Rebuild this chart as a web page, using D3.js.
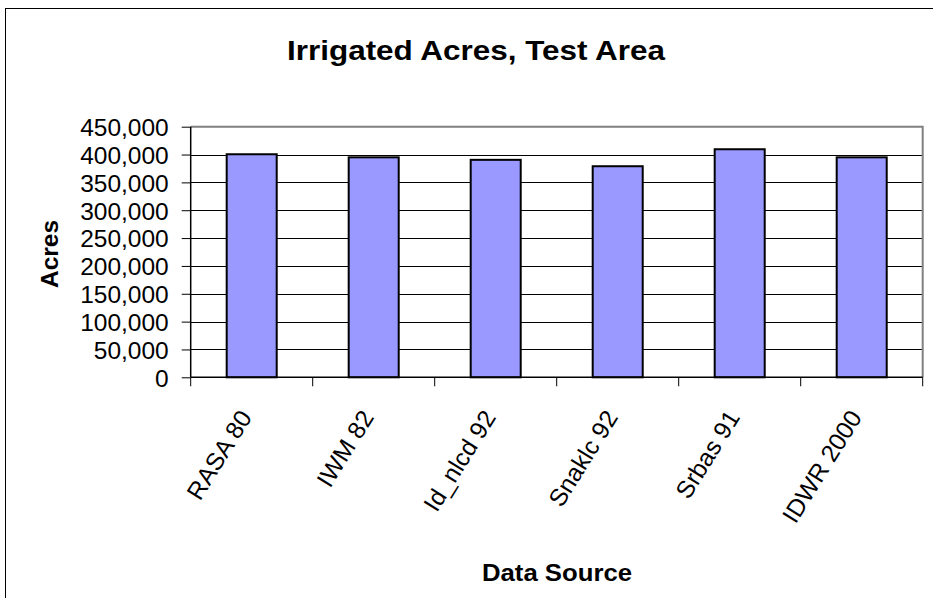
<!DOCTYPE html>
<html><head><meta charset="utf-8">
<script src="https://cdn.jsdelivr.net/npm/d3@7"></script>
<style>body{margin:0;background:#fff}svg{display:block}text{font-family:"Liberation Sans",Arial,sans-serif}</style>
</head><body>
<svg id="c" width="933" height="598"></svg>
<script>
const categories = ["RASA 80","IWM 82","Id_nlcd 92","Snaklc 92","Srbas 91","IDWR 2000"];
const values = [400500, 395000, 390500, 379000, 409500, 395000];
const yTicks = [0,50000,100000,150000,200000,250000,300000,350000,400000,450000];
const title = "Irrigated Acres, Test Area";
const xTitle = "Data Source";
const yTitle = "Acres";

const svg = d3.select("#c");
const L = 190.7, R = 922.7, T = 126.7, B = 377.3;

// chart area frame
svg.append("rect").attr("x",5.5).attr("y",8.5).attr("width",960).attr("height",620)
  .attr("fill","#fff").attr("stroke","#000").attr("stroke-width",1);

const x = d3.scaleBand().domain(categories).range([L,R]).paddingInner(0.59).paddingOuter(0.295);
const xb = d3.scaleBand().domain(categories).range([L,R]);
const y = d3.scaleLinear().domain([0,450000]).range([B,T]);

// gridlines
svg.append("g").selectAll("line").data(yTicks.filter(d=>d>0 && d<450000)).join("line")
  .attr("x1",L).attr("x2",R).attr("y1",d=>Math.round(y(d))+0.5).attr("y2",d=>Math.round(y(d))+0.5)
  .attr("stroke","#000").attr("stroke-width",1);

// plot border (top/right gray)
svg.append("path").attr("d",`M${L},${T}H${R}V${B}`).attr("fill","none").attr("stroke","#808080").attr("stroke-width",2);

// bars
svg.append("g").selectAll("rect").data(values).join("rect")
  .attr("x",(d,i)=>x(categories[i])).attr("width",x.bandwidth())
  .attr("y",d=>y(d)).attr("height",d=>B-y(d))
  .attr("fill","#9999FF").attr("stroke","#000").attr("stroke-width",2);

// y axis
const yAxis = d3.axisLeft(y).tickValues(yTicks).tickSize(9).tickPadding(13)
  .tickFormat(d3.format(","));
const gy = svg.append("g").attr("transform",`translate(${L},0)`).call(yAxis);
gy.select(".domain").attr("stroke","#000").attr("stroke-width",1.5).attr("d",`M0,${T}V${B}`);
gy.selectAll(".tick line").attr("stroke","#000");
gy.selectAll(".tick text").attr("font-size",24.5).attr("fill","#000").attr("font-family","Liberation Sans, Arial, sans-serif").attr("dy","0.36em");

// x axis: ticks at band boundaries
const gx = svg.append("g").attr("transform",`translate(0,${B})`);
gx.append("line").attr("x1",L).attr("x2",R).attr("y1",0).attr("y2",0).attr("stroke","#000").attr("stroke-width",1.5);
const bounds = categories.map(c=>xb(c)).concat([R]);
gx.selectAll("line.t").data(bounds).join("line").attr("class","t")
  .attr("x1",d=>d).attr("x2",d=>d).attr("y1",0).attr("y2",9).attr("stroke","#000");
gx.selectAll("text").data(categories).join("text")
  .attr("transform",d=>`translate(${xb(d)+xb.bandwidth()/2+1},${40}) rotate(-58)`)
  .attr("text-anchor","end").attr("font-size",24.5).attr("fill","#000").text(d=>d);

// titles
svg.append("text").attr("x",476).attr("y",60).attr("text-anchor","middle")
  .attr("font-size",28).attr("font-weight","bold").attr("textLength",378).attr("lengthAdjust","spacingAndGlyphs").text(title);
svg.append("text").attr("x",557).attr("y",581).attr("text-anchor","middle")
  .attr("font-size",24).attr("font-weight","bold").attr("textLength",150).attr("lengthAdjust","spacingAndGlyphs").text(xTitle);
svg.append("text").attr("transform","translate(58,254) rotate(-90)").attr("text-anchor","middle")
  .attr("font-size",23).attr("font-weight","bold").attr("textLength",68).attr("lengthAdjust","spacingAndGlyphs").text(yTitle);
</script>
</body></html>
